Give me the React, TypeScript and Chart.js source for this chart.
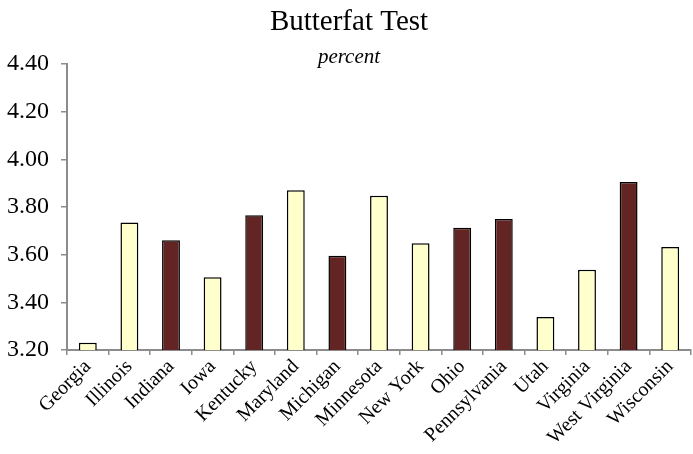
import React, { useEffect, useRef } from "react";
import { Chart, registerables } from "chart.js";

Chart.register(...registerables);

const states = ["Georgia", "Illinois", "Indiana", "Iowa", "Kentucky", "Maryland", "Michigan", "Minnesota", "New York", "Ohio", "Pennsylvania", "Utah", "Virginia", "West Virginia", "Wisconsin"];
const butterfat = [3.23, 3.735, 3.66, 3.505, 3.765, 3.87, 3.595, 3.847, 3.648, 3.713, 3.75, 3.338, 3.537, 3.905, 3.632];
const highlighted = ["Indiana", "Kentucky", "Michigan", "Ohio", "Pennsylvania", "West Virginia"];
const yTicks = [3.2, 3.4, 3.6, 3.8, 4.0, 4.2, 4.4];

const LIGHT = "#FFFFCC";
const DARK = "#632523";
const AXIS = "#8c8c8c";
const SERIF = "'Liberation Serif', 'Times New Roman', serif";

export default function App() {
  const ref = useRef<HTMLCanvasElement | null>(null);
  useEffect(() => {
    document.body.style.margin = "0";
    const ctx = ref.current!;
    const chart = new Chart(ctx, {
      type: "bar",
      data: {
        labels: states,
        datasets: [
          {
            data: butterfat,
            backgroundColor: states.map((s) => (highlighted.includes(s) ? DARK : LIGHT)),
            borderColor: "#000000",
            borderWidth: 1.5,
            barPercentage: 0.43,
            categoryPercentage: 1,
          },
        ],
      },
      options: {
        animation: false,
        responsive: false,
        maintainAspectRatio: false,
        layout: { padding: { left: 7, right: 2, top: 0, bottom: 0 } },
        plugins: {
          legend: { display: false },
          tooltip: { enabled: false },
          title: {
            display: true,
            text: "Butterfat Test",
            color: "#000",
            font: { family: SERIF, size: 29, weight: "normal", lineHeight: 1.2 },
            padding: { top: 5, bottom: 0 },
          },
          subtitle: {
            display: true,
            text: "percent",
            color: "#000",
            font: { family: SERIF, size: 21, style: "italic", weight: "normal", lineHeight: 1.2 },
            padding: { top: 5, bottom: -6 },
          },
        },
        scales: {
          x: {
            afterFit: (axis: any) => {
              axis.height = 104;
            },
            grid: {
              display: true,
              drawOnChartArea: false,
              drawTicks: true,
              tickLength: 5,
              color: AXIS,
              lineWidth: 1.5,
              offset: true,
            },
            border: { display: true, color: AXIS, width: 2 },
            ticks: {
              color: "#000",
              font: { family: SERIF, size: 20 },
              maxRotation: 45,
              minRotation: 45,
              autoSkip: false,
              padding: 0,
            },
          },
          y: {
            min: 3.2,
            max: 4.4,
            afterBuildTicks: (axis: any) => {
              axis.ticks = yTicks.map((v) => ({ value: v }));
            },
            afterFit: (axis: any) => {
              axis.width = 60;
            },
            grid: {
              display: true,
              drawOnChartArea: false,
              drawTicks: true,
              tickLength: 6,
              color: AXIS,
              lineWidth: 1.5,
            },
            border: { display: true, color: AXIS, width: 2 },
            ticks: {
              color: "#000",
              font: { family: SERIF, size: 24 },
              padding: 12,
              callback: (v: any) => Number(v).toFixed(2),
            },
          },
        },
      },
    });
    return () => chart.destroy();
  }, []);
  return (
    <div style={{ width: 693, height: 454 }}>
      <canvas ref={ref} width={693} height={454} style={{ display: "block" }} />
    </div>
  );
}
